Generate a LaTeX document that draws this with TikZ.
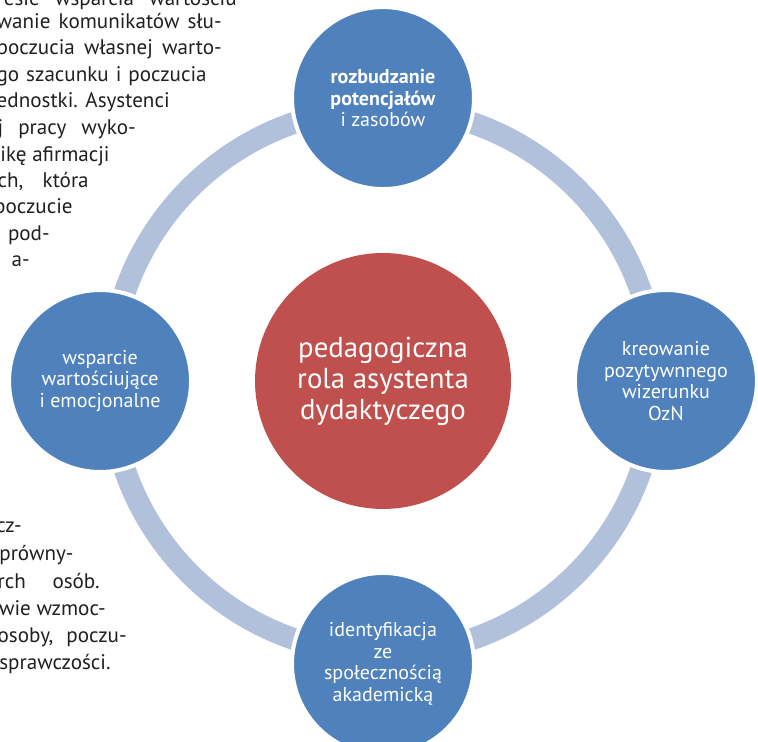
\documentclass[tikz,border=0pt]{standalone}
\usepackage{fontspec}
\setmainfont{PT Sans}
\usepackage{tikz}

\definecolor{satblue}{HTML}{4F81BD}
\definecolor{hubred}{HTML}{C0504D}
\definecolor{ringblue}{HTML}{B1C1DC}
\definecolor{ink}{HTML}{231F20}

% one pixel of the layout grid
\newdimen\pxu \pxu=0.02cm
% justified line of the page text, spread out to #1 px
\newcommand{\spread}[2]{\makebox[#1\pxu][s]{#2}}

\tikzstyle{sat} = [circle, fill=satblue, draw=white, line width=0.08cm,
    minimum size=3.64cm, inner sep=0pt, text=white, align=center,
    font=\fontsize{11.4}{12.3}\selectfont]
\tikzstyle{hub} = [circle, fill=hubred, minimum size=5.12cm, inner sep=0pt,
    text=white, align=center, font=\fontsize{16.4}{17.6}\selectfont]
\tikzstyle{ring} = [draw=ringblue, line width=0.44cm]
\tikzstyle{txt} = [anchor=base east, inner sep=0pt, text=ink,
    font=\fontsize{12}{15}\selectfont]

\begin{document}
\begin{tikzpicture}[x=0.02cm,y=-0.02cm,node distance=5.66cm]
  \useasboundingbox (0,0) rectangle (758,742);

  % page text flowing round the figure
  \node[txt] (a1)  at (237,6)   {\spread{240}{resie wsparcia wartościu}};
  \node[txt] (a2)  at (222,29)  {\spread{225}{wanie komunikatów słu-}};
  \node[txt] (a3)  at (222,55)  {\spread{225}{poczucia własnej warto-}};
  \node[txt] (a4)  at (207,82)  {\spread{210}{go szacunku i poczucia}};
  \node[txt] (a5)  at (170,108) {ednostki. Asystenci};
  \node[txt] (a6)  at (136,135) {\spread{138}{j pracy wyko-}};
  \node[txt] (a7)  at (110,162) {ikę afirmacji};
  \node[txt] (a8)  at (89,188)  {\spread{91}{ch, która}};
  \node[txt] (a9)  at (73,214)  {poczucie};
  \node[txt] (a10) at (50,241)  {pod-};
  \node[txt] (a11) at (30,267)  {a-};

  \node[txt] (b1)  at (22,533)  {cz-};
  \node[txt,anchor=base west] (b2) at (-1,561) {prówny-};
  \node[txt] (b3)  at (100,589) {\spread{102}{rch osób.}};
  \node[txt] (b4)  at (106,616) {wie wzmoc-};
  \node[txt] (b5)  at (127,643) {\spread{129}{osoby, poczu-}};
  \node[txt,anchor=base west] (b6) at (-1,670) {sprawczości.};

  % cycle
  \node[hub] (0) at (383,381) {pedagogiczna\\rola asystenta\\dydaktyczego};
  \draw[ring] (0.center) circle (5.46cm);

  \node[sat] (1) [above of=0] {\textbf{rozbudzanie}\\\textbf{potencjałów}\\i zasobów};
  \node[sat] (2) [right of=0] {kreowanie\\pozytywnnego\\wizerunku\\OzN};
  \node[sat] (3) [below of=0] {identyfikacja\\ze\\społecznością\\akademicką};
  \node[sat] (4) [left of=0]  {wsparcie\\wartościujące\\i emocjonalne};
\end{tikzpicture}
\end{document}
